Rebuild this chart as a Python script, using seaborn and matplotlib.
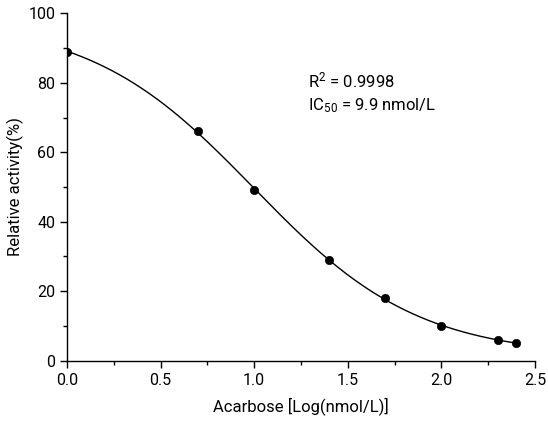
import numpy as np
import pandas as pd
import matplotlib
matplotlib.use('Agg')
import matplotlib.pyplot as plt
import seaborn as sns

log_conc = [0.0, 0.7, 1.0, 1.4, 1.7, 2.0, 2.3, 2.4]
activity = [89, 66, 49, 29, 18, 10, 6, 5]
r2_text = 'R$^{2}$ = 0.9998'
ic50_text = 'IC$_{50}$ = 9.9 nmol/L'

x = np.array(log_conc, dtype=float)
y = np.array(activity, dtype=float)


# 4-parameter logistic fit (dose-response), simple damped Gauss-Newton
def logistic(p, xx):
    top, bottom, x0, hill = p
    return bottom + (top - bottom) / (1 + 10 ** ((xx - x0) * hill))


params = np.array([95.0, 0.0, 1.0, 1.0])
lam = 1e-3
for _ in range(500):
    r = y - logistic(params, x)
    J = np.zeros((len(x), 4))
    for k in range(4):
        d = np.zeros(4)
        d[k] = 1e-6
        J[:, k] = (logistic(params + d, x) - logistic(params - d, x)) / 2e-6
    A = J.T @ J
    step = np.linalg.solve(A + lam * np.diag(np.diag(A)), J.T @ r)
    new = params + step
    if np.sum((y - logistic(new, x)) ** 2) < np.sum(r ** 2):
        params = new
        lam *= 0.5
    else:
        lam *= 4

xs = np.linspace(x.min(), x.max(), 300)
fit = pd.DataFrame({'x': xs, 'y': logistic(params, xs)})
pts = pd.DataFrame({'x': x, 'y': y})

sns.set_style('ticks')
plt.rcParams['font.family'] = ['Roboto', 'DejaVu Sans']
plt.rcParams['mathtext.fontset'] = 'custom'
plt.rcParams['mathtext.rm'] = 'Roboto'
plt.rcParams['mathtext.it'] = 'Roboto'
plt.rcParams['text.color'] = 'black'
plt.rcParams['axes.labelcolor'] = 'black'

fig = plt.figure(figsize=(5.48, 4.24), dpi=100)
ax = fig.add_axes([0.1223, 0.1493, 0.854, 0.8193])

sns.lineplot(data=fit, x='x', y='y', ax=ax, color='black', lw=1.0)
sns.scatterplot(data=pts, x='x', y='y', ax=ax, color='black', s=36,
                edgecolor='black', zorder=3)

ax.set_xlim(0, 2.5)
ax.set_ylim(0, 100)
ax.set_xticks(np.arange(0, 2.51, 0.5))
ax.set_xticks(np.arange(0.25, 2.5, 0.5), minor=True)
ax.set_yticks(np.arange(0, 101, 20))
ax.set_yticks(np.arange(10, 100, 20), minor=True)
ax.xaxis.set_major_formatter(matplotlib.ticker.FormatStrFormatter('%.1f'))
ax.tick_params(which='major', length=5, width=1.0, labelsize=11.5, colors='black')
ax.tick_params(which='minor', length=3, width=1.0, colors='black')
for s in ['left', 'bottom']:
    ax.spines[s].set_linewidth(1.0)
    ax.spines[s].set_color('black')
sns.despine(ax=ax)

ax.set_xlabel('Acarbose [Log(nmol/L)]', fontsize=12, labelpad=7)
ax.set_ylabel('Relative activity(%)', fontsize=12, labelpad=3)

ax.text(1.287, 78.8, r2_text, fontsize=12)
ax.text(1.287, 72.2, ic50_text, fontsize=12)

fig.savefig('out.png', dpi=100)
